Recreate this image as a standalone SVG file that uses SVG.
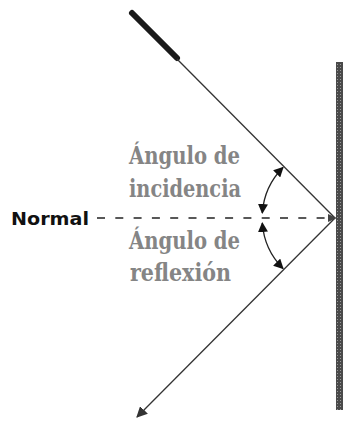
<svg xmlns="http://www.w3.org/2000/svg" width="345" height="423" viewBox="0 0 345 423">
  <style>
    .lbl { font-family: "DejaVu Serif", "Liberation Serif", serif; font-weight: bold; font-size: 24px; fill: #858585; }
    .norm { font-family: "DejaVu Sans", "Liberation Sans", sans-serif; font-weight: bold; font-size: 18px; fill: #111; }
    .ray { stroke: #333; stroke-width: 1.3; fill: none; }
    .arc { stroke: #222; stroke-width: 1.3; fill: none; }
  </style>
  <defs>
    <pattern id="mir" width="3" height="3" patternUnits="userSpaceOnUse">
      <rect width="3" height="3" fill="#4a4a4a"/>
      <rect x="1" y="1" width="1" height="1" fill="#999"/>
    </pattern>
    <marker id="bigHead" viewBox="0 0 10 10" refX="9" refY="5" markerWidth="11" markerHeight="11" markerUnits="userSpaceOnUse" orient="auto">
      <path d="M0,0 L10,5 L0,10 Z" fill="#333"/>
    </marker>
    <marker id="smallHead" viewBox="0 0 10 10" refX="9" refY="5" markerWidth="10" markerHeight="10" markerUnits="userSpaceOnUse" orient="auto-start-reverse">
      <path d="M0,0 L10,5 L0,10 Z" fill="#111"/>
    </marker>
  </defs>
  <rect width="345" height="423" fill="#fff"/>

  <g id="mirror">
    <rect x="336" y="62" width="7" height="348" fill="url(#mir)"/>
  </g>

  <g id="normal">
    <text class="norm" x="11" y="225" textLength="78" lengthAdjust="spacingAndGlyphs">Normal</text>
  </g>

  <g id="labels">
    <text class="lbl" x="129" y="164" textLength="111" lengthAdjust="spacingAndGlyphs">Ángulo de</text>
    <text class="lbl" x="129" y="197" textLength="112" lengthAdjust="spacingAndGlyphs">incidencia</text>
    <text class="lbl" x="129" y="249" textLength="111" lengthAdjust="spacingAndGlyphs">Ángulo de</text>
    <text class="lbl" x="130" y="281" textLength="101" lengthAdjust="spacingAndGlyphs">reflexión</text>
  </g>

  <g id="connectors">
    <line x1="132" y1="13" x2="177" y2="58" stroke="#1a1a1a" stroke-width="6" stroke-linecap="round"/>
    <line class="ray" x1="177" y1="59" x2="335" y2="218"/>
    <line class="ray" x1="335" y1="218" x2="137" y2="417" marker-end="url(#bigHead)"/>
    <line x1="97" y1="218" x2="334" y2="218" stroke="#222" stroke-width="1.4" stroke-dasharray="8 10.3"/>
    <path d="M328,214 L337,218 L328,222 Z" fill="#444"/>
    <path class="arc" d="M262.3,213 A72,72 0 0 1 283,167.5" marker-start="url(#smallHead)" marker-end="url(#smallHead)"/>
    <path class="arc" d="M262.3,223 A72,72 0 0 0 283,268.5" marker-start="url(#smallHead)" marker-end="url(#smallHead)"/>
  </g>
</svg>
